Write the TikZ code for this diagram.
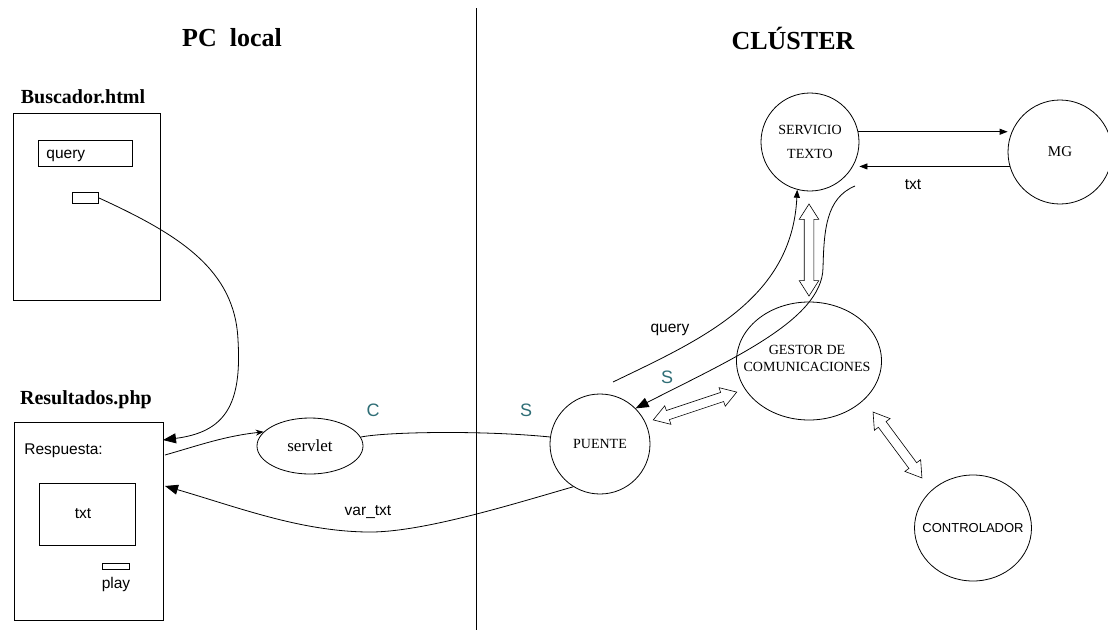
\documentclass[tikz,border=0pt]{standalone}
\usepackage{fontspec}
\setmainfont{Liberation Serif}
\setsansfont{Liberation Sans}
\usetikzlibrary{arrows.meta,shapes.geometric,shapes.arrows}
\definecolor{tealc}{RGB}{47,110,118}
\begin{document}
\begin{tikzpicture}[x=1pt,y=-1pt,
  line width=0.8pt,
  box/.style={draw, anchor=north west, inner sep=0pt},
  circ/.style={draw, circle, inner sep=0pt},
  ell/.style={draw, ellipse, inner sep=0pt},
  ttl/.style={font=\fontsize{26}{30}\selectfont\bfseries},
  fname/.style={font=\fontsize{20}{24}\selectfont\bfseries},
  lbl/.style={font=\sffamily\fontsize{15.5}{18}\selectfont, inner sep=0pt},
  cs/.style={font=\sffamily\fontsize{18}{20}\selectfont, text=tealc},
  nodefont/.style={font=\fontsize{14}{17}\selectfont},
  bigtip/.style={-{Triangle[length=13pt,width=10pt]}},
  smalltip/.style={-{Triangle[length=8pt,width=6pt]}},
  hollow/.style={draw, double arrow, inner xsep=0pt, inner ysep=4.5pt, minimum width=19pt,
    double arrow head extend=5pt, double arrow tip angle=65,
    line width=0.6pt, sloped, pos=0.5}]
\useasboundingbox (0,0) rectangle (1108,630);
\fill[white] (0,0) rectangle (1108,630);

% titles and divider
\node[ttl] (pc) at (232,38) {PC\ \ local};
\node[ttl] (cl) at (793,38) {CLÚSTER};
\draw (476,8) -- (476,630);

% Buscador.html
\node[fname] (bt) at (83,97) {Buscador.html};
\node[box, minimum width=147pt, minimum height=187pt] (busc) at (13,113) {};
\node[box, minimum width=94pt, minimum height=26pt] (qbox) at (38,140) {};
\node[lbl, anchor=base west] (qt) at (46,158) {query};
\node[box, minimum width=26pt, minimum height=11pt] (btn) at (72,192) {};

% Resultados.php
\node[fname] (rt) at (86,400) {Resultados.php};
\node[box, minimum width=149pt, minimum height=198pt] (res) at (14,422) {};
\node[lbl, anchor=base west] (resp) at (24,454) {Respuesta:};
\node[box, minimum width=96pt, minimum height=62pt] (txtbox) at (39,483) {};
\node[lbl, anchor=base] (txtl) at (83,518) {txt};
\node[box, minimum width=27pt, minimum height=6pt] (play) at (102,563) {};
\node[lbl, anchor=base] (playl) at (116,588) {play};

% servlet
\node[ell, minimum width=106pt, minimum height=56pt, font=\fontsize{17}{20}\selectfont] (servlet) at (310,446) {servlet};

% cluster nodes
\node[circ, minimum size=100pt, nodefont] (puente) at (600,444) {PUENTE};
\node[ell, minimum width=145pt, minimum height=118pt] (gestor) at (809,361) {};
\node[nodefont, align=center] (gestorlbl) at (807,358) {GESTOR DE\\COMUNICACIONES};
\node[circ, minimum size=98pt, nodefont, align=center] (serv) at (810,142) {SERVICIO\\[7pt]TEXTO};
\node[circ, minimum size=104pt, font=\fontsize{15}{18}\selectfont] (mg) at (1060,152) {MG};
\node[ell, minimum width=117pt, minimum height=106pt] (ctrl) at (973,528) {};
\node[font=\sffamily\fontsize{13}{15}\selectfont] (ctrllbl) at (973,528) {CONTROLADOR};

% labels
\node[cs] (C) at (373,410) {C};
\node[cs] (S1) at (526,410) {S};
\node[cs] (S2) at (667,377) {S};
\node[lbl, anchor=base] (txtmg) at (913,189) {txt};
\node[lbl, anchor=base] (ql) at (670,332) {query};
\node[lbl, anchor=base] (vl) at (368,515) {var\_txt};

% connectors
\coordinate (resin) at (163,440);
\draw[bigtip] (btn.east) .. controls (180,235) and (235,270) .. (238,340)
  .. controls (242,405) and (225,432) .. (resin);
\coordinate (resout) at (165,455);
\draw[-{Stealth[length=8pt,width=6pt]}] (resout) .. controls (200,445) and (225,436) .. (servlet.163);
\draw (servlet.10) .. controls (385,432) and (480,430) .. (puente.172);
\coordinate (resin2) at (165,486);
\draw[bigtip] (puente.-122) .. controls (510,505) and (420,533) .. (367,532)
  .. controls (300,531) and (240,508) .. (resin2);

\draw[smalltip] (serv.12) -- (serv.12 -| mg.west);
\draw[smalltip] (mg.196) -- (mg.196 -| serv.east);

\coordinate (qs) at (613,382);
\draw[smalltip] (qs) .. controls (700,340) and (792,300) .. (serv.-105);
\coordinate (rs) at (855,186);
\draw[bigtip] (rs) .. controls (826,198) and (824,230) .. (823,268)
  .. controls (822,320) and (730,360) .. (puente.45);

% hollow double arrows
\coordinate (h1a) at (809,204); \coordinate (h1b) at (809,296);
\path (h1a) -- node[hollow, minimum height=92pt] (dv1) {} (h1b);
\coordinate (h2a) at (653,420); \coordinate (h2b) at (737,392);
\path (h2a) -- node[hollow, minimum height=88pt] (dv2) {} (h2b);
\coordinate (h3a) at (873,412); \coordinate (h3b) at (922,478);
\path (h3a) -- node[hollow, minimum height=82pt] (dv3) {} (h3b);
\end{tikzpicture}
\end{document}
